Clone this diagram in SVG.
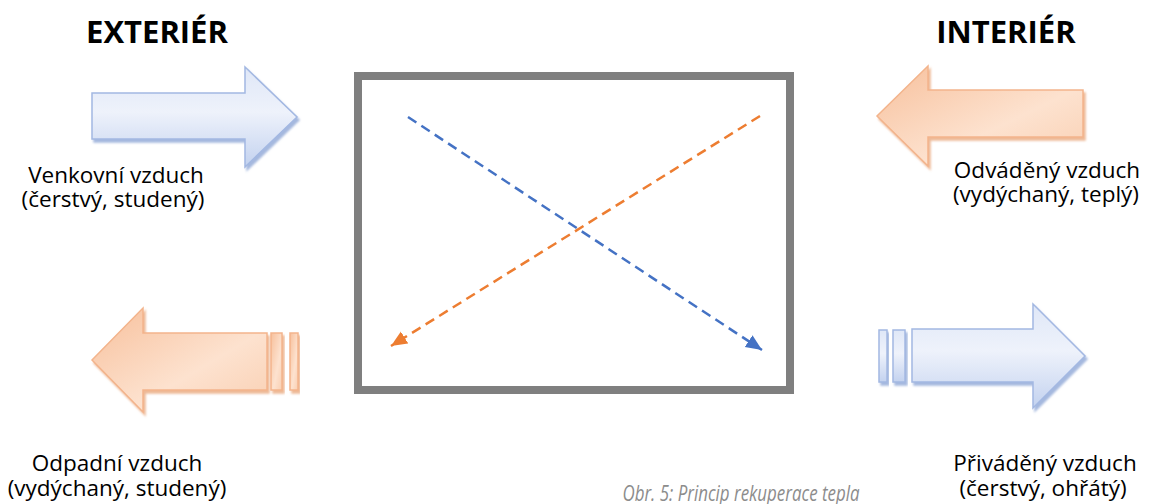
<svg xmlns="http://www.w3.org/2000/svg" width="1150" height="504" viewBox="0 0 1150 504">
<style>
.title{font-family:"Open Sans","Liberation Sans",sans-serif;font-weight:bold;font-size:31px;fill:#000;text-anchor:middle}
.lbl{font-family:"Open Sans","Liberation Sans",sans-serif;font-size:22.5px;fill:#000;text-anchor:middle}
.cap{font-family:"Open Sans","Liberation Sans",sans-serif;font-style:italic;font-size:21px;fill:#8c8c8c;text-anchor:middle}
.blue{fill:url(#gBlue);stroke:#a3b8e2;stroke-width:1.5;filter:url(#shBlue)}
.orange{fill:url(#gOrange);stroke:#f3b48c;stroke-width:1.5;filter:url(#shOrange)}
.dash{fill:none;stroke-width:2.5;stroke-dasharray:10 6}
</style>
<defs>
<linearGradient id="gBlue" x1="0" y1="0" x2="0" y2="1">
<stop offset="0" stop-color="#dfe7f7"/>
<stop offset="0.45" stop-color="#eef2fb"/>
<stop offset="1" stop-color="#c3d2ef"/>
</linearGradient>
<linearGradient id="gOrange" x1="0" y1="0" x2="1" y2="1">
<stop offset="0" stop-color="#f7c09c"/>
<stop offset="0.6" stop-color="#fde2cf"/>
<stop offset="1" stop-color="#f9cfb2"/>
</linearGradient>
<filter id="shBlue" x="-10%" y="-10%" width="130%" height="130%">
<feDropShadow dx="2" dy="3" stdDeviation="1" flood-color="#8ea6d6" flood-opacity="0.8"/>
</filter>
<filter id="shOrange" x="-10%" y="-10%" width="130%" height="130%">
<feDropShadow dx="2" dy="3" stdDeviation="1" flood-color="#e9a77c" flood-opacity="0.8"/>
</filter>
<marker id="mBlue" markerUnits="userSpaceOnUse" markerWidth="20" markerHeight="20" refX="16" refY="7" orient="auto">
<path d="M0,0 L16,7 L0,14 Z" fill="#4472c4"/>
</marker>
<marker id="mOrange" markerUnits="userSpaceOnUse" markerWidth="20" markerHeight="20" refX="16" refY="7" orient="auto">
<path d="M0,0 L16,7 L0,14 Z" fill="#ed7d31"/>
</marker>
</defs>
<rect width="1150" height="504" fill="#fff"/>

<g id="title-exterier"><text class="title" x="157" y="43">EXTERIÉR</text></g>
<g id="title-interier"><text class="title" x="1006" y="43">INTERIÉR</text></g>

<g id="exchanger">
<rect x="358" y="76" width="432" height="314" fill="#fff" stroke="#7f7f7f" stroke-width="8"/>
</g>

<g id="connectors">
<line class="dash" x1="408" y1="117" x2="762" y2="350" stroke="#4472c4" marker-end="url(#mBlue)"/>
<line class="dash" x1="760" y1="116" x2="391" y2="346" stroke="#ed7d31" marker-end="url(#mOrange)"/>
</g>

<g id="venkovni">
<path class="blue" d="M92,93 H245 V67 L297,117 L245,167 V139 H92 Z"/>
<text class="lbl" x="116" y="183">Venkovní vzduch</text>
<text class="lbl" x="113" y="207">(čerstvý, studený)</text>
</g>

<g id="odvadeny">
<path class="orange" d="M1083,90 H928 V66 L877,116 L928,166 V137 H1083 Z"/>
<text class="lbl" x="1047" y="178">Odváděný vzduch</text>
<text class="lbl" x="1046" y="202">(vydýchaný, teplý)</text>
</g>

<g id="odpadni">
<path class="orange" d="M92,360 L143,308 V333 H267 V390 H143 V412 Z"/>
<rect class="orange" x="271" y="333" width="11" height="57"/>
<rect class="orange" x="290" y="333" width="8" height="57"/>
<text class="lbl" x="117" y="471">Odpadní vzduch</text>
<text class="lbl" x="117" y="496">(vydýchaný, studený)</text>
</g>

<g id="privadeny">
<rect class="blue" x="879" y="330" width="8" height="52"/>
<rect class="blue" x="893" y="330" width="12" height="52"/>
<path class="blue" d="M912,329 H1033 V304 L1085,356 L1033,408 V382 H912 Z"/>
<text class="lbl" x="1045" y="471">Přiváděný vzduch</text>
<text class="lbl" x="1043" y="496">(čerstvý, ohřátý)</text>
</g>

<g id="caption"><text class="cap" x="741" y="501" textLength="237" lengthAdjust="spacingAndGlyphs">Obr. 5: Princip rekuperace tepla</text></g>
</svg>
